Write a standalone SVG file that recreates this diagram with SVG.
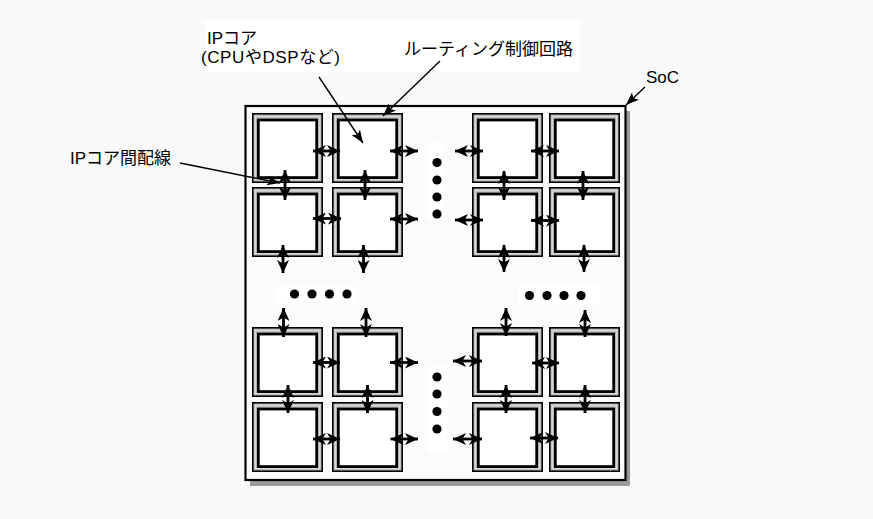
<svg xmlns="http://www.w3.org/2000/svg" xmlns:xlink="http://www.w3.org/1999/xlink" width="873" height="519" viewBox="0 0 873 519">
  <style>
    .bg { fill: #f9f9f9; }
    .patch { fill: #ffffff; }
    .frame-out { fill: #c2c2c2; stroke: #000; stroke-width: 1.6; }
    .frame-mid { fill: none; stroke: #dedede; stroke-width: 0.8; }
    .frame-in { fill: #ffffff; stroke: #000; stroke-width: 2.8; }
    .soc { fill: #fbfbfb; stroke: #000; stroke-width: 2.2; }
    .shadow { fill: #9a9a9a; }
    .conn { stroke: #000; stroke-width: 2.8; fill: none; marker-start: url(#ah); marker-end: url(#ah); }
    .leader { stroke: #000; stroke-width: 1.4; fill: none; marker-end: url(#lh); }
    .dot { fill: #000; }
    .lbl { font-family: "Liberation Sans", "Noto Sans CJK JP", sans-serif; font-size: 17px; fill: #000; }
  </style>
  <defs>
    <marker id="ah" viewBox="0 0 13 12" refX="13" refY="6" markerWidth="13" markerHeight="12" markerUnits="userSpaceOnUse" orient="auto-start-reverse">
      <path d="M0,0 L13,6 L0,12 L3.5,6 z" fill="#000"/>
    </marker>
    <marker id="lh" viewBox="0 0 13 10" refX="13" refY="5" markerWidth="13" markerHeight="10" markerUnits="userSpaceOnUse" orient="auto">
      <path d="M0,0 L13,5 L0,10 L3,5 z" fill="#000"/>
    </marker>
    <g id="tile">
      <rect class="frame-out" x="0.8" y="0.8" width="69.4" height="68.4"/>
      <rect class="frame-mid" x="3.4" y="3.4" width="64.2" height="63.2"/>
      <rect class="frame-in" x="6.3" y="7" width="58.4" height="57.6"/>
    </g>
  </defs>

  <rect class="bg" x="0" y="0" width="873" height="519"/>
  <rect class="patch" x="205" y="20" width="375" height="52"/>

  <!-- SoC -->
  <g id="soc">
    <rect class="shadow" x="250" y="111" width="380" height="375"/>
    <rect class="soc" x="245.5" y="106" width="380" height="374"/>
    <rect class="patch" x="428" y="142" width="16" height="78"/>
    <rect class="patch" x="275" y="286" width="82" height="17"/>
    <rect class="patch" x="518" y="285" width="82" height="19"/>
    <rect class="patch" x="427" y="366" width="21" height="86"/>
  </g>

  <!-- IP cores -->
  <g id="ip-r1c1" transform="translate(252,113)"><use href="#tile"/></g>
  <g id="ip-r1c2" transform="translate(332,113)"><use href="#tile"/></g>
  <g id="ip-r1c3" transform="translate(472,113)"><use href="#tile"/></g>
  <g id="ip-r1c4" transform="translate(549,113)"><use href="#tile"/></g>
  <g id="ip-r2c1" transform="translate(252,187)"><use href="#tile"/></g>
  <g id="ip-r2c2" transform="translate(332,187)"><use href="#tile"/></g>
  <g id="ip-r2c3" transform="translate(472,187)"><use href="#tile"/></g>
  <g id="ip-r2c4" transform="translate(549,187)"><use href="#tile"/></g>
  <g id="ip-r3c1" transform="translate(252,327)"><use href="#tile"/></g>
  <g id="ip-r3c2" transform="translate(332,327)"><use href="#tile"/></g>
  <g id="ip-r3c3" transform="translate(472,327)"><use href="#tile"/></g>
  <g id="ip-r3c4" transform="translate(549,327)"><use href="#tile"/></g>
  <g id="ip-r4c1" transform="translate(252,402)"><use href="#tile"/></g>
  <g id="ip-r4c2" transform="translate(332,402)"><use href="#tile"/></g>
  <g id="ip-r4c3" transform="translate(472,402)"><use href="#tile"/></g>
  <g id="ip-r4c4" transform="translate(549,402)"><use href="#tile"/></g>

  <!-- ellipsis dots -->
  <g id="dots">
    <circle class="dot" cx="437" cy="162.5" r="4.6"/>
    <circle class="dot" cx="437" cy="180" r="4.6"/>
    <circle class="dot" cx="437" cy="197" r="4.6"/>
    <circle class="dot" cx="437" cy="214" r="4.6"/>
    <circle class="dot" cx="294.5" cy="294" r="4.6"/>
    <circle class="dot" cx="312" cy="294" r="4.6"/>
    <circle class="dot" cx="329.5" cy="294" r="4.6"/>
    <circle class="dot" cx="347" cy="294" r="4.6"/>
    <circle class="dot" cx="529.5" cy="295.5" r="4.6"/>
    <circle class="dot" cx="547" cy="295.5" r="4.6"/>
    <circle class="dot" cx="564" cy="295.5" r="4.6"/>
    <circle class="dot" cx="581" cy="295.5" r="4.6"/>
    <circle class="dot" cx="437" cy="377" r="4.6"/>
    <circle class="dot" cx="437" cy="394" r="4.6"/>
    <circle class="dot" cx="437" cy="411.5" r="4.6"/>
    <circle class="dot" cx="437" cy="429" r="4.6"/>
  </g>

  <!-- connectors -->
  <g id="connectors">
    <!-- horizontal -->
    <line class="conn" x1="313" y1="151" x2="340" y2="151"/>
    <line class="conn" x1="390" y1="151" x2="418" y2="151"/>
    <line class="conn" x1="455" y1="151" x2="483" y2="151"/>
    <line class="conn" x1="531" y1="151" x2="559" y2="151"/>
    <line class="conn" x1="313" y1="218.5" x2="341" y2="218.5"/>
    <line class="conn" x1="390" y1="219" x2="418" y2="219"/>
    <line class="conn" x1="455" y1="220" x2="483" y2="220"/>
    <line class="conn" x1="531" y1="220.5" x2="559" y2="220.5"/>
    <line class="conn" x1="313" y1="362.5" x2="340" y2="362.5"/>
    <line class="conn" x1="390" y1="362.5" x2="418" y2="362.5"/>
    <line class="conn" x1="453" y1="361" x2="482" y2="361"/>
    <line class="conn" x1="532" y1="363" x2="559" y2="363"/>
    <line class="conn" x1="313" y1="439" x2="340" y2="439"/>
    <line class="conn" x1="390.5" y1="439" x2="418" y2="439"/>
    <line class="conn" x1="453" y1="439" x2="482" y2="439"/>
    <line class="conn" x1="530" y1="438" x2="558" y2="438"/>
    <!-- vertical -->
    <line class="conn" x1="285" y1="170" x2="285" y2="200"/>
    <line class="conn" x1="365" y1="170" x2="365" y2="200"/>
    <line class="conn" x1="504" y1="171" x2="504" y2="200"/>
    <line class="conn" x1="583" y1="171" x2="583" y2="200"/>
    <line class="conn" x1="283" y1="245" x2="283" y2="273"/>
    <line class="conn" x1="363.5" y1="245" x2="363.5" y2="273"/>
    <line class="conn" x1="504" y1="245" x2="504" y2="272"/>
    <line class="conn" x1="584" y1="245" x2="584" y2="272"/>
    <line class="conn" x1="283.5" y1="308" x2="283.5" y2="337"/>
    <line class="conn" x1="366" y1="308" x2="366" y2="337"/>
    <line class="conn" x1="506" y1="308" x2="506" y2="336"/>
    <line class="conn" x1="585" y1="310" x2="585" y2="337"/>
    <line class="conn" x1="288" y1="385" x2="288" y2="413"/>
    <line class="conn" x1="367.5" y1="385" x2="367.5" y2="413"/>
    <line class="conn" x1="506" y1="385" x2="506" y2="413"/>
    <line class="conn" x1="585" y1="385" x2="585" y2="413"/>
    <!-- leaders -->
    <line class="leader" x1="319" y1="77" x2="363" y2="143"/>
    <line class="leader" x1="440" y1="61" x2="383" y2="116"/>
    <line class="leader" x1="180" y1="163" x2="280" y2="183"/>
    <line class="leader" x1="645" y1="87" x2="626" y2="105"/>
  </g>

  <!-- labels -->
  <g id="labels">
    <text class="lbl" x="207" y="44">IPコア</text>
    <text class="lbl" x="201" y="63" textLength="139" lengthAdjust="spacing">(CPUやDSPなど)</text>
    <text class="lbl" x="404" y="54.5">ルーティング制御回路</text>
    <text class="lbl" x="70" y="163.5">IPコア間配線</text>
    <text class="lbl" x="646" y="82.5">SoC</text>
  </g>
</svg>
